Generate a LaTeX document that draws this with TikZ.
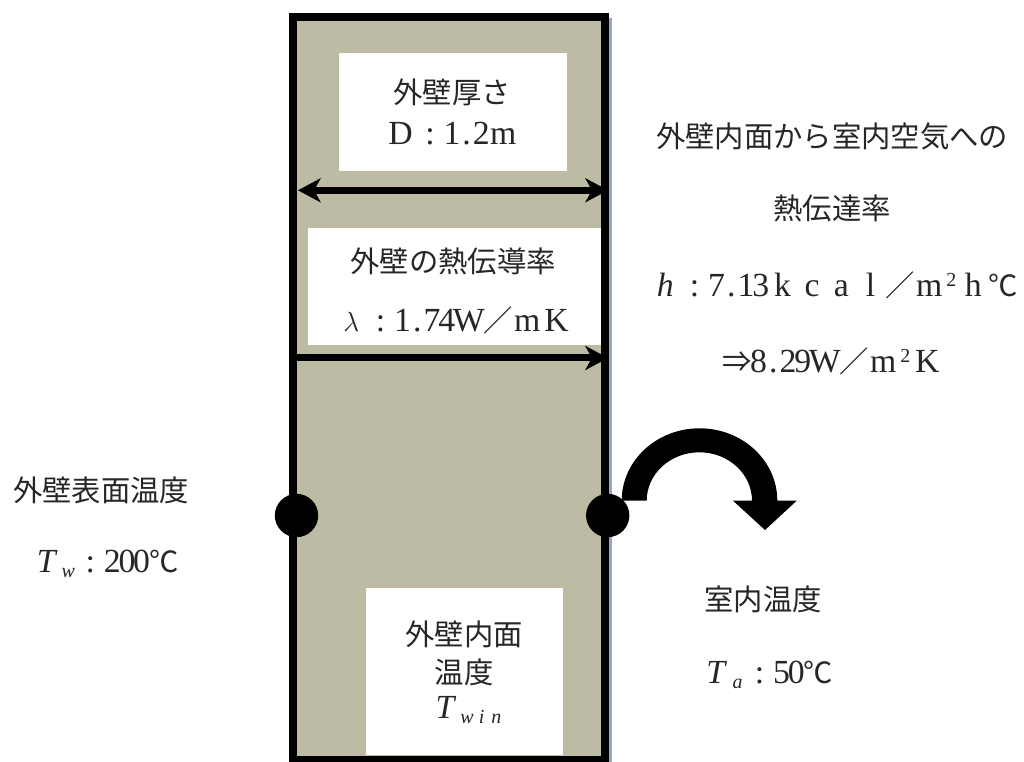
\documentclass[tikz,border=0pt]{standalone}
\usepackage{fontspec}
\setmainfont{Liberation Serif}[Scale=1.15]
\newfontfamily\jp{Noto Sans CJK JP}
\usetikzlibrary{arrows.meta}
\definecolor{wall_fill}{HTML}{BDBBA3}
\definecolor{wall_shadow}{HTML}{9AA8BD}
\newcommand{\fw}[1]{\makebox[1em]{\rmfamily #1}}
\newcommand{\hw}[1]{\makebox[0.5em]{\rmfamily #1}}
\newcommand{\low}[1]{\makebox[0.5em]{\raisebox{-4pt}{\fontsize{13}{13}\selectfont\rmfamily\itshape #1}}}
\newcommand{\upp}[1]{\makebox[0.5em]{\raisebox{7pt}{\fontsize{13}{13}\selectfont\rmfamily #1}}}

\begin{document}
\begin{tikzpicture}[x=0.75pt,y=-0.75pt,
    jp_text/.style={font=\fontsize{22}{26}\selectfont\jp, inner sep=0, text=black!85},
    white_box/.style={fill=white, draw=none},
    wall_dot/.style={circle, fill=black, minimum size=32.5pt, inner sep=0},
    span_arrow/.style={line width=5.25pt}]

    \useasboundingbox (0,0) rectangle (1024,762);

    \fill[wall_shadow] (606,18) rectangle (612,762);
    \draw[line width=6pt, fill=wall_fill] (293.3,16.7) rectangle (604.5,760);

    \fill[white_box] (339,53.3) rectangle (566.7,171);
    \fill[white_box] (307.7,227.7) rectangle (600.7,345);
    \fill[white_box] (366,587.7) rectangle (562.7,755);

    \coordinate (11) at (298,190.3);
    \coordinate (12) at (608,190.3);
    \coordinate (13) at (297,358);
    \coordinate (14) at (608,358);

    \draw[span_arrow, {Stealth[length=17pt,width=18pt,inset=5pt]}-{Stealth[length=17pt,width=18pt,inset=5pt]}] (11) -- (12);
    \draw[span_arrow, -{Stealth[length=17pt,width=18pt,inset=5pt]}] (13) -- (14);

    \fill (621.7,500.7) arc (180:360:77.8 and 72.4) -- (796.7,500.7) -- (765,530) -- (733,500.7) -- (752,500.7) arc (360:180:52.65 and 48.4) -- cycle;

    \node[wall_dot] (1) at (296.5,515.5) {};
    \node[wall_dot] (2) at (607.7,515.5) {};

    \node[jp_text] (3) at (452,92) {外壁厚さ};
    \node[jp_text] (4) at (452,134) {\fw{D}\fw{:}\hw{1}\hw{.}\hw{2}\fw{m}};
    \node[jp_text] (5) at (453,261) {外壁の熱伝導率};
    \node[jp_text] (6) at (454,320) {\fw{$\lambda$}\fw{:}\hw{1}\hw{.}\hw{7}\hw{4}\fw{W}／\fw{m}\fw{K}};

    \node[jp_text] (7) at (832,136) {外壁内面から室内空気への};
    \node[jp_text] (8) at (832,208) {熱伝達率};
    \node[jp_text] (9) at (834,285) {\fw{\itshape h}\fw{:}\hw{7}\hw{.}\hw{1}\hw{3}\fw{k}\fw{c}\fw{a}\fw{l}／\fw{m}\upp{2}\fw{h}℃};
    \node[jp_text] (10) at (832,361) {⇒\hw{8}\hw{.}\hw{2}\hw{9}\fw{W}／\fw{m}\upp{2}\fw{K}};

    \node[jp_text] (15) at (101,490) {外壁表面温度};
    \node[jp_text] (16) at (105,564) {\fw{\itshape T}\low{w}\fw{:}\hw{2}\hw{0}\hw{0}℃};

    \node[jp_text] (17) at (763,599) {室内温度};
    \node[jp_text] (18) at (767,675) {\fw{\itshape T}\low{a}\fw{:}\hw{5}\hw{0}℃};

    \node[jp_text] (19) at (464,634) {外壁内面};
    \node[jp_text] (20) at (464,672) {温度};
    \node[jp_text] (21) at (467,710) {\fw{\itshape T}\low{w}\low{i}\low{n}};

\end{tikzpicture}
\end{document}
